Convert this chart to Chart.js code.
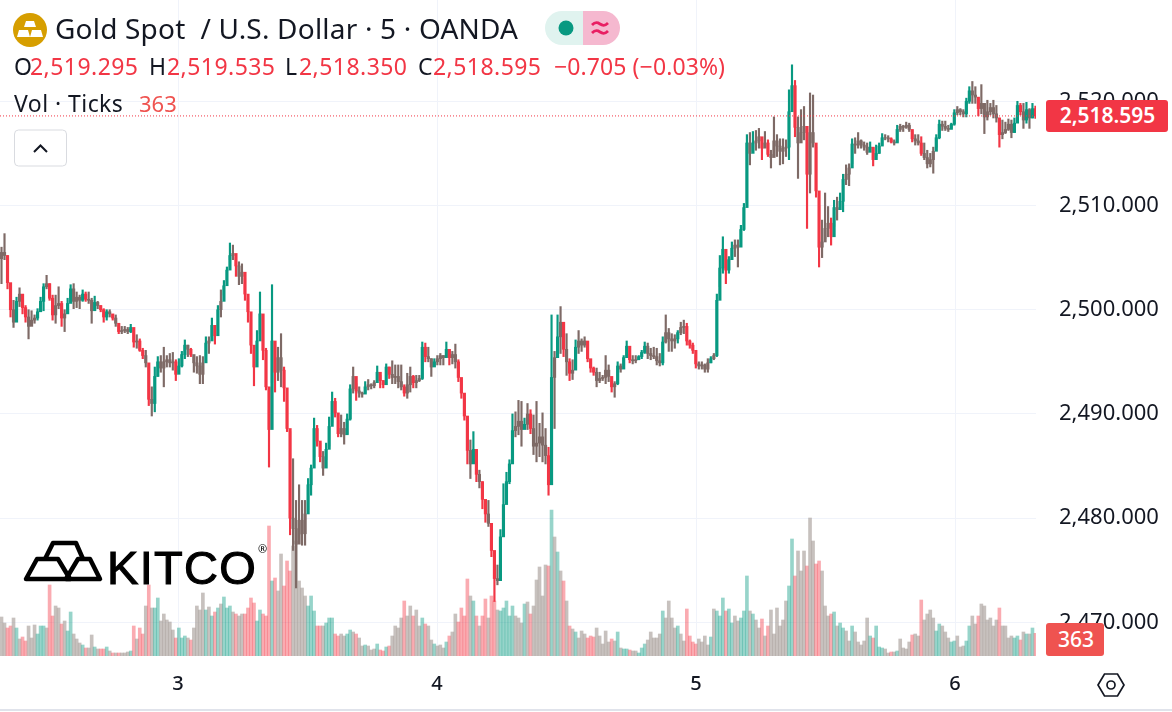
<!DOCTYPE html>
<html>
<head>
<meta charset="utf-8">
<script src="https://cdn.jsdelivr.net/npm/chart.js@4"></script>
<style>
  body { margin: 0; background: #fff; font-family: "Noto Sans", sans-serif; color: #131722; }
  #wrap { position: relative; width: 1172px; height: 712px; overflow: hidden; }
  canvas { position: absolute; left: 0; top: 0; }
  .t { position: absolute; white-space: pre; line-height: 1; }
  .row { font-size: 23px; letter-spacing: 0.45px; }
  .red { color: #f23645; }
  .tag { position: absolute; color: #fff; border-radius: 3px; text-align: center; }
</style>
</head>
<body>
<div id="wrap">
  <canvas id="goldChart" width="1172" height="712"></canvas>

  <svg style="position:absolute;left:0;top:0" width="1172" height="712">
    <circle cx="30" cy="30" r="17" fill="#d69e00"/>
    <path d="M26 21h8l2 6H24zM19 30h9l2 7H17zM32 30h9l2 7H30z" fill="#fff"/>
    <path d="M545 28a17 17 0 0 1 17-17h21v34h-21a17 17 0 0 1-17-17z" fill="#e0f3ef"/>
    <path d="M583 11h20a17 17 0 0 1 0 34h-20z" fill="#f5b8cf"/>
    <circle cx="566" cy="28" r="7.5" fill="#089981"/>
    <g fill="none" stroke="#e91e63" stroke-width="2.8">
      <path d="M592 25c3-3 5-3 8-1s5 2 8-1"/>
      <path d="M592 33c3-3 5-3 8-1s5 2 8-1"/>
    </g>
    <rect x="14.5" y="130" width="52" height="36" rx="4" fill="#fff" stroke="#d9dbe0"/>
    <path d="M34 152l6.500-6.500 6.500 6.500" fill="none" stroke="#131722" stroke-width="2"/>
    <g fill="none" stroke="#000" stroke-width="4.500" stroke-linejoin="round">
      <path d="M26 579L37 559H58L70 579Z"/>
      <path d="M66 579L78 559H90L100 579Z"/>
      <path d="M45 559L53 543H76L83 559"/>
    </g>
    <path d="M1098 685l6.500-11h13l6.500 11-6.500 11h-13z" fill="none" stroke="#131722" stroke-width="1.7"/>
    <circle cx="1111" cy="685" r="4" fill="none" stroke="#131722" stroke-width="1.7"/>
  </svg>

  <div class="t" style="left:55px;top:14px;font-size:28px;letter-spacing:0.2px">Gold Spot  / U.S. Dollar · 5 · OANDA</div>
  <div class="t row" style="left:14px;top:55px">O</div>
  <div class="t row red" style="left:30px;top:55px">2,519.295</div>
  <div class="t row" style="left:149px;top:55px">H</div>
  <div class="t row red" style="left:167px;top:55px">2,519.535</div>
  <div class="t row" style="left:285px;top:55px">L</div>
  <div class="t row red" style="left:299px;top:55px">2,518.350</div>
  <div class="t row" style="left:418px;top:55px">C</div>
  <div class="t row red" style="left:433px;top:55px">2,518.595</div>
  <div class="t row red" style="left:554px;top:55px;letter-spacing:0.1px">−0.705 (−0.03%)</div>
  <div class="t row" style="left:14px;top:92px;">Vol · Ticks</div>
  <div class="t row" style="left:139px;top:92px;font-size:22px;letter-spacing:0;color:#ef5350">363</div>

  <div class="t" style="left:107px;top:540px;font:47px 'Liberation Sans';letter-spacing:1.3px;-webkit-text-stroke:1.1px #000;color:#000">KITCO</div>
  <div class="t" style="left:258px;top:543px;font-size:11px;color:#000">®</div>

  <div class="tag" style="left:1046px;top:100px;width:122px;height:32px;line-height:31px;background:#f23645;font-size:21px;font-weight:600;padding-left:1px;box-sizing:border-box">2,518.595</div>
  <div class="tag" style="left:1046px;top:623px;width:58px;height:33px;line-height:33px;background:#ef5350;font-size:21px;font-weight:500;padding-left:2px;box-sizing:border-box">363</div>
  <div style="position:absolute;left:0;top:709px;width:1172px;height:2px;background:#e0e3eb"></div>
</div>

<script>
// 5 minute gold candles, every 3px or so
const highs = [
  2506.0,2507.3,2505.2,2502.4,2500.9,2501.2,2502.1,2501.4,2500.4,2500.0,
  2499.9,2499.5,2500.1,2501.2,2502.5,2503.3,2502.5,2501.4,2501.4,2502.2,
  2500.8,2500.0,2501.1,2502.4,2502.5,2501.7,2501.4,2501.9,2501.7,2501.7,
  2501.1,2501.3,2500.8,2500.4,2500.1,2500.0,2500.0,2499.5,2499.5,2498.5,
  2498.4,2498.4,2498.3,2498.6,2498.2,2497.6,2497.2,2496.3,2496.1,2494.7,
  2492.6,2494.5,2495.5,2495.6,2496.4,2495.6,2495.8,2495.9,2495.2,2495.3,
  2496.0,2497.1,2496.6,2496.3,2495.6,2495.5,2495.6,2495.5,2497.4,2497.4,
  2499.2,2498.4,2500.4,2501.9,2502.8,2504.1,2506.4,2506.2,2505.0,2504.6,
  2504.4,2503.0,2501.1,2499.0,2496.1,2498.0,2501.7,2499.5,2496.3,2492.3,
  2502.4,2496.4,2496.4,2497.7,2494.5,2491.3,2488.3,2485.7,2481.7,2483.2,
  2481.7,2481.7,2483.8,2485.1,2489.6,2488.9,2487.2,2486.4,2487.2,2489.7,
  2492.1,2491.5,2489.4,2489.9,2489.2,2490.0,2492.8,2494.5,2492.9,2492.6,
  2492.1,2493.1,2493.3,2492.9,2493.2,2494.6,2493.7,2493.2,2494.8,2494.5,
  2495.1,2494.7,2494.7,2494.7,2492.8,2493.9,2494.5,2493.7,2493.7,2493.7,
  2496.9,2496.8,2496.4,2495.3,2495.3,2495.6,2495.8,2495.6,2496.9,2496.1,
  2496.0,2496.7,2495.2,2493.2,2491.5,2489.7,2487.5,2488.3,2486.1,2484.6,
  2483.5,2481.7,2481.7,2479.2,2476.3,2475.5,2478.9,2483.3,2484.4,2485.6,
  2490.0,2490.2,2491.3,2491.2,2489.6,2491.0,2490.4,2489.9,2491.2,2489.1,
  2490.1,2488.6,2486.8,2499.5,2496.0,2499.5,2500.3,2497.9,2497.7,2495.3,
  2495.2,2497.1,2498.0,2497.2,2497.4,2496.4,2495.0,2494.5,2494.4,2494.0,
  2493.7,2495.6,2494.7,2493.2,2493.1,2495.0,2494.8,2495.6,2497.0,2495.7,
  2495.6,2495.6,2495.6,2496.1,2496.9,2496.8,2496.3,2496.4,2496.3,2495.8,
  2497.4,2499.5,2498.2,2497.7,2497.6,2498.0,2498.8,2499.0,2498.7,2497.1,
  2496.8,2495.6,2495.0,2495.0,2494.8,2495.3,2495.5,2495.8,2501.5,2505.2,
  2507.0,2505.1,2505.1,2506.5,2506.7,2506.7,2508.1,2510.2,2516.8,2517.0,
  2517.1,2517.2,2517.4,2516.3,2517.1,2516.3,2515.3,2518.5,2516.8,2516.4,
  2516.4,2516.3,2521.1,2523.5,2522.0,2518.5,2519.2,2519.5,2516.0,2520.8,
  2520.6,2515.6,2510.0,2508.6,2511.2,2509.9,2508.8,2510.5,2510.8,2511.2,
  2513.0,2513.9,2514.0,2516.4,2516.5,2517.0,2516.3,2516.1,2516.0,2516.1,
  2515.5,2515.8,2516.0,2516.9,2516.8,2516.7,2516.5,2516.3,2517.7,2517.8,
  2517.7,2518.0,2517.9,2517.2,2516.8,2516.8,2516.6,2516.0,2515.3,2515.0,
  2515.6,2516.8,2518.2,2518.1,2518.1,2517.7,2517.9,2519.2,2519.5,2519.3,
  2519.2,2520.3,2521.4,2521.9,2521.4,2520.1,2521.6,2519.8,2520.1,2519.8,
  2520.1,2519.6,2518.4,2518.2,2518.0,2518.3,2518.2,2518.4,2520.0,2519.8,
  2519.8,2519.9,2519.3,2519.8,2519.535
];
const lows = [
  2502.5,2504.8,2502.0,2499.3,2498.3,2499.0,2500.3,2499.6,2498.8,2497.2,
  2498.6,2498.7,2499.0,2499.9,2499.9,2502.0,2500.9,2499.0,2498.7,2500.1,
  2498.4,2497.9,2500.0,2501.1,2500.1,2500.2,2500.1,2500.8,2500.8,2500.6,
  2498.7,2500.0,2500.1,2499.8,2498.8,2499.0,2499.3,2499.0,2498.4,2497.7,
  2497.7,2497.8,2497.7,2497.8,2496.4,2496.3,2496.0,2495.3,2494.5,2490.8,
  2489.8,2490.2,2493.6,2494.0,2492.6,2494.5,2494.5,2494.2,2493.2,2494.0,
  2494.5,2495.3,2495.5,2495.5,2494.0,2493.9,2492.9,2492.9,2495.0,2495.8,
  2497.4,2496.7,2498.4,2499.3,2501.4,2502.7,2504.8,2504.8,2503.2,2502.4,
  2502.5,2500.9,2498.8,2495.8,2492.7,2495.2,2497.7,2495.2,2492.3,2484.9,
  2493.0,2492.1,2493.2,2492.6,2491.2,2488.3,2478.4,2476.9,2473.3,2478.4,
  2477.4,2477.4,2480.8,2482.2,2485.9,2486.9,2485.4,2484.1,2485.6,2486.9,
  2489.2,2489.7,2487.8,2487.8,2487.1,2488.1,2489.4,2492.0,2491.3,2491.6,
  2491.6,2492.0,2492.3,2492.4,2492.5,2493.2,2492.5,2492.5,2493.7,2493.4,
  2492.9,2492.9,2492.5,2492.3,2491.7,2491.5,2492.1,2492.5,2492.5,2493.1,
  2493.3,2495.0,2495.0,2493.6,2494.6,2494.7,2494.7,2494.7,2495.5,2494.7,
  2494.8,2494.4,2493.1,2491.5,2489.4,2485.2,2483.8,2485.9,2483.5,2482.9,
  2480.9,2479.6,2479.2,2476.3,2472.0,2473.6,2474.2,2478.9,2481.7,2483.3,
  2485.6,2487.8,2488.0,2486.9,2488.6,2488.5,2488.1,2486.1,2485.4,2485.9,
  2485.4,2485.2,2482.2,2485.2,2488.6,2496.6,2495.8,2495.5,2493.7,2493.2,
  2493.3,2495.2,2495.8,2496.0,2496.4,2495.0,2494.0,2493.7,2492.6,2493.0,
  2493.2,2492.9,2493.1,2492.1,2491.6,2492.8,2494.0,2494.7,2495.6,2494.9,
  2494.8,2494.9,2495.2,2495.3,2495.8,2495.3,2495.2,2495.3,2494.7,2494.6,
  2494.7,2496.8,2496.0,2496.0,2496.3,2496.8,2497.6,2497.7,2496.6,2496.3,
  2495.8,2494.4,2494.3,2494.3,2494.0,2494.0,2494.9,2495.2,2495.5,2502.2,
  2503.5,2502.5,2503.5,2504.8,2505.1,2504.1,2506.1,2507.6,2510.5,2513.9,
  2515.2,2515.3,2515.5,2514.4,2515.8,2514.7,2513.6,2514.7,2514.7,2513.9,
  2514.0,2514.7,2514.4,2520.4,2516.6,2512.6,2516.3,2516.3,2507.8,2511.2,
  2515.6,2510.8,2504.1,2505.0,2506.8,2507.0,2506.2,2508.0,2508.6,2509.6,
  2509.4,2512.0,2511.9,2514.0,2515.0,2515.5,2515.5,2515.3,2514.9,2515.5,
  2513.8,2514.8,2515.0,2515.8,2516.3,2516.1,2516.0,2515.8,2516.1,2517.1,
  2517.1,2517.4,2517.1,2516.1,2515.8,2515.8,2514.8,2514.4,2513.6,2513.7,
  2513.1,2515.6,2516.4,2517.2,2517.2,2517.1,2517.4,2517.7,2518.7,2518.7,
  2518.5,2518.5,2519.8,2519.8,2519.8,2518.6,2518.8,2516.9,2518.2,2518.7,
  2518.4,2518.0,2515.6,2516.4,2516.9,2517.2,2516.5,2517.0,2518.2,2518.7,
  2517.4,2517.9,2517.4,2518.4,2518.35
];
const closes = [
  2505.5,2505.2,2502.6,2500.0,2498.8,2500.8,2501.5,2500.2,2499.3,2498.4,
  2499.0,2499.2,2499.8,2500.8,2502.2,2502.5,2501.1,2499.5,2500.4,2500.6,
  2499.2,2499.6,2500.6,2502.0,2500.8,2501.2,2500.9,2501.5,2501.0,2500.9,
  2499.9,2500.7,2500.4,2500.0,2499.3,2499.8,2499.6,2499.2,2498.7,2497.9,
  2498.0,2498.1,2497.9,2498.3,2496.9,2497.0,2496.1,2495.6,2494.9,2491.4,
  2491.0,2493.6,2495.0,2494.4,2495.0,2495.2,2494.9,2495.0,2493.8,2494.6,
  2495.7,2496.6,2496.2,2495.7,2494.9,2494.6,2493.8,2494.9,2496.8,2497.0,
  2498.5,2497.5,2500.0,2500.8,2502.3,2503.8,2505.2,2505.4,2504.2,2503.2,
  2503.6,2501.5,2499.8,2496.6,2494.5,2497.0,2499.6,2496.1,2492.6,2488.5,
  2497.0,2494.0,2495.4,2494.2,2492.5,2488.6,2480.0,2479.0,2477.5,2479.8,
  2478.5,2480.4,2483.2,2484.8,2488.6,2487.4,2485.9,2484.8,2486.6,2488.8,
  2491.2,2490.1,2488.1,2488.6,2488.0,2489.5,2492.4,2493.6,2492.2,2492.0,
  2491.9,2492.6,2492.8,2492.7,2493.0,2494.0,2493.2,2492.8,2494.5,2493.8,
  2493.5,2493.6,2493.1,2492.6,2492.0,2492.8,2493.6,2493.0,2493.2,2493.4,
  2496.4,2495.5,2495.3,2494.5,2495.0,2495.3,2495.6,2495.4,2496.2,2495.4,
  2495.7,2495.0,2493.5,2492.0,2489.8,2486.5,2485.2,2486.6,2484.2,2483.5,
  2481.8,2480.4,2479.5,2476.9,2474.2,2474.0,2478.2,2481.3,2483.5,2485.2,
  2488.4,2488.8,2489.3,2488.5,2489.0,2490.0,2488.6,2486.9,2487.2,2487.8,
  2487.0,2486.0,2483.2,2493.5,2495.4,2497.4,2498.8,2496.2,2495.0,2493.9,
  2494.2,2496.4,2497.0,2496.6,2497.0,2495.3,2494.4,2494.0,2493.2,2493.4,
  2493.5,2494.2,2493.6,2492.6,2492.9,2494.6,2494.3,2495.4,2496.5,2495.2,
  2495.1,2495.2,2495.5,2495.9,2496.5,2495.8,2495.6,2495.5,2495.1,2494.9,
  2496.9,2497.8,2497.2,2497.0,2497.2,2497.8,2498.3,2498.4,2497.0,2496.6,
  2496.1,2494.8,2494.6,2494.7,2494.3,2494.9,2495.3,2495.6,2500.9,2504.0,
  2505.8,2503.8,2504.8,2505.9,2506.2,2506.0,2507.7,2509.8,2516.0,2515.0,
  2516.0,2516.2,2516.6,2515.5,2516.0,2514.9,2514.6,2516.2,2515.7,2515.2,
  2515.5,2515.6,2519.0,2521.5,2517.5,2516.0,2517.0,2517.6,2513.0,2517.0,
  2516.0,2511.4,2506.0,2506.5,2507.8,2508.3,2507.0,2509.8,2509.6,2510.4,
  2512.5,2513.0,2513.6,2515.9,2515.8,2516.2,2515.8,2515.6,2515.1,2515.6,
  2514.4,2515.0,2515.7,2516.5,2516.5,2516.4,2516.1,2516.0,2517.3,2517.6,
  2517.5,2517.7,2517.3,2516.4,2516.2,2516.0,2515.0,2514.6,2514.0,2514.4,
  2515.2,2516.5,2517.8,2517.6,2517.4,2517.3,2517.8,2518.9,2519.2,2519.0,
  2518.8,2520.0,2521.0,2520.6,2520.4,2519.3,2519.8,2518.5,2519.0,2519.4,
  2518.8,2518.4,2516.8,2517.0,2517.3,2517.8,2517.0,2517.9,2519.6,2519.0,
  2518.2,2519.2,2518.4,2519.295,2518.595
];
const volumes = [
  624,528,448,480,608,448,272,304,240,480,
  288,496,352,480,480,448,1136,640,800,768,
  512,560,400,704,352,272,208,176,128,128,
  336,144,112,112,112,144,80,48,48,48,
  48,48,64,80,480,272,448,352,800,1136,
  768,768,928,560,672,576,544,416,288,448,
  288,320,288,256,448,800,736,1008,736,784,
  640,704,768,832,944,768,800,704,672,640,
  672,672,768,928,848,560,736,672,640,2080,
  1200,1248,1040,1632,1120,1520,1360,1760,1840,1200,
  1088,960,800,960,720,480,480,480,528,608,
  608,352,320,352,320,352,416,384,352,288,
  160,176,160,96,112,192,96,80,144,160,
  320,480,448,608,880,640,800,640,736,480,
  608,512,480,256,192,160,176,128,224,320,
  384,672,544,768,640,1232,960,880,640,480,
  640,912,608,960,880,736,720,768,880,640,
  800,640,608,528,832,864,672,800,1216,1424,
  960,1456,1440,2336,1904,1664,1360,1200,880,480,
  432,384,288,400,352,288,320,304,448,320,
  192,400,224,272,240,384,128,112,112,96,
  80,80,48,128,192,256,384,288,288,352,
  720,608,880,608,448,480,352,240,752,320,
  224,192,272,224,320,176,304,752,720,640,
  928,720,752,528,640,560,608,720,1280,720,
  672,576,448,592,320,480,736,352,768,480,
  576,880,1120,1872,1280,1680,1360,1680,1440,2208,
  1840,1472,1520,1360,800,640,672,704,480,528,
  448,400,240,480,384,224,176,240,608,320,
  288,480,144,128,112,48,64,64,80,272,
  128,112,224,336,352,320,896,576,672,736,
  608,400,512,480,384,288,224,240,320,144,
  160,240,480,640,512,640,832,800,576,608,
  480,576,768,480,480,288,320,288,320,256,
  384,352,352,448,363
];
const lastPrice = 2518.595;
const firstOpen = 2504.9;
const dayTicks = [3, 4, 5, 6];

const xStart = 2.3127, xEnd = 6.3127;
const barStep = 0.011605; // about 3px, one day is 259px

const opens = closes.map((c, i) => i ? closes[i - 1] : firstOpen);
const times = closes.map((c, i) => xStart + 0.0058 + i * barStep);

const upColor = '#089981', downColor = '#f23645', mixColor = '#7e6a66';
function candleColor(i, up, down, mix) {
  const net = closes[i] - opens[i];
  if (Math.abs(net) < 0.5 * (highs[i] - lows[i])) return mix;
  return net >= 0 ? up : down;
}
const candleColors = closes.map((c, i) => candleColor(i, upColor, downColor, mixColor));
const volColors = closes.map((c, i) => candleColor(i, 'rgba(8,153,129,0.42)', 'rgba(242,54,69,0.42)', 'rgba(165,155,150,0.62)'));

new Chart(document.getElementById('goldChart'), {
  type: 'bar',
  data: {
    datasets: [
      {
        data: times.map((t, i) => ({ x: t, y: volumes[i] })),
        yAxisID: 'yVol',
        backgroundColor: volColors,
        barThickness: 3,
        grouped: false,
        order: 4
      },
      {
        data: times.map((t, i) => ({ x: t, y: [lows[i], highs[i]] })),
        yAxisID: 'y',
        backgroundColor: candleColors,
        barThickness: 1.5,
        grouped: false,
        order: 3
      },
      {
        data: times.map((t, i) => ({ x: t, y: [opens[i], closes[i]] })),
        yAxisID: 'y',
        backgroundColor: candleColors,
        barThickness: 2.5,
        grouped: false,
        order: 2
      },
      {
        type: 'line',
        data: [{ x: xStart, y: lastPrice }, { x: xEnd, y: lastPrice }],
        yAxisID: 'y',
        borderColor: '#f23645',
        borderWidth: 1,
        borderDash: [1, 2],
        pointRadius: 0,
        order: 1
      }
    ]
  },
  options: {
    responsive: false,
    animation: false,
    devicePixelRatio: 1,
    layout: { padding: 0 },
    plugins: { legend: { display: false }, tooltip: { enabled: false } },
    scales: {
      x: {
        type: 'linear',
        min: xStart,
        max: xEnd,
        offset: false,
        afterFit: s => { s.height = 56; s.paddingLeft = 0; s.paddingRight = 0; },
        border: { display: false },
        grid: { color: '#f0f3fa', drawTicks: false, offset: false },
        afterBuildTicks: s => { s.ticks = dayTicks.map(d => ({ value: d })); },
        ticks: {
          autoSkip: false,
          maxRotation: 0,
          padding: 16,
          color: '#131722',
          font: { family: 'Noto Sans', size: 20, weight: '500' },
          callback: v => String(v)
        }
      },
      y: {
        position: 'right',
        min: 2466.77,
        max: 2529.72,
        afterFit: s => { s.width = 136; s.paddingTop = 0; s.paddingBottom = 0; },
        border: { display: false },
        grid: { color: '#f0f3fa', drawTicks: false },
        ticks: {
          stepSize: 10,
          includeBounds: false,
          padding: 23,
          color: '#131722',
          font: { family: 'Noto Sans', size: 22 },
          callback: v => v.toLocaleString('en-US', { minimumFractionDigits: 3, maximumFractionDigits: 3 })
        }
      },
      yVol: { display: false, min: 0, max: 10496 }
    }
  }
});
</script>
</body>
</html>
